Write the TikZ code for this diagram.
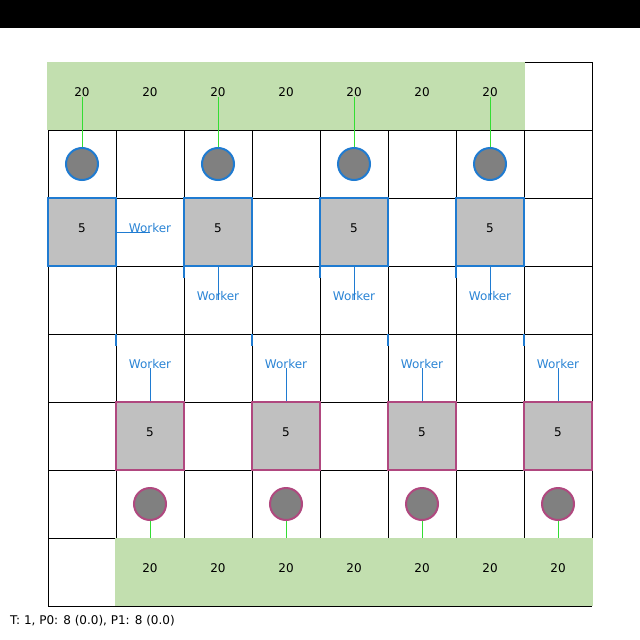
\documentclass[tikz,border=0pt]{standalone}
\usepackage{fontspec}
\setmainfont{DejaVu Sans}
\definecolor{bandgreen}{HTML}{C2DFAF}
\definecolor{sqblue}{HTML}{1F7BD1}
\definecolor{wblue}{HTML}{2A84D5}
\definecolor{sqmag}{HTML}{B0487F}
\definecolor{sqgray}{HTML}{C0C0C0}
\definecolor{circgray}{HTML}{808080}
\definecolor{lgreen}{HTML}{33DD33}
\pgfdeclarelayer{gridlayer}
\pgfdeclarelayer{connlayer}
\pgfdeclarelayer{bandlayer}
\pgfsetlayers{gridlayer,connlayer,bandlayer,main}
\begin{document}
\begin{tikzpicture}[x=1pt,y=-1pt,
  gridline/.style={draw=black,line width=1pt},
  bandfill/.style={fill=bandgreen,draw=none},
  txt/.style={font=\fontsize{12}{14}\selectfont,text=black,inner sep=1pt},
  num/.style={txt,anchor=base},
  bsq/.style={rectangle,draw=sqblue,line width=2pt,fill=sqgray,minimum size=68pt,inner sep=0pt},
  msq/.style={bsq,draw=sqmag},
  bcirc/.style={circle,draw=sqblue,line width=2pt,fill=circgray,minimum size=32pt,inner sep=0pt},
  mcirc/.style={bcirc,draw=sqmag},
  worker/.style={font=\fontsize{12}{14}\selectfont,text=wblue,anchor=base,inner sep=0pt},
  wline/.style={draw=sqblue,line width=1pt},
  gline/.style={draw=lgreen,line width=1pt},
  tickmark/.style={draw=sqblue,line width=1.5pt}]
\useasboundingbox (0,0) rectangle (640,640);
% background and grid
\begin{pgfonlayer}{gridlayer}
\fill[white] (0,0) rectangle (640,640);
\fill[black] (0,0) rectangle (640,28);
\foreach \i in {0,...,8} {
  \draw[gridline] (48+68*\i,62) -- (48+68*\i,606);
  \draw[gridline] (48,62+68*\i) -- (592,62+68*\i);
}
\end{pgfonlayer}
% bands
\begin{pgfonlayer}{bandlayer}
\fill[bandfill] (47,62) rectangle (525,130);
\fill[bandfill] (115,538) rectangle (593,606);
\end{pgfonlayer}
% top labels
\foreach \c [count=\k] in {82,150,218,286,354,422,490} {
  \node[num] (t\k) at (\c,96) {20};
}
% bottom labels
\foreach \c [count=\k] in {150,218,286,354,422,490,558} {
  \node[num] (b\k) at (\c,572) {20};
}
% top circles
\node[bcirc] (c1) at (82,164) {};
\node[bcirc] (c2) at (218,164) {};
\node[bcirc] (c3) at (354,164) {};
\node[bcirc] (c4) at (490,164) {};
\draw[gline] (t1.south) -- (c1.north);
\draw[gline] (t3.south) -- (c2.north);
\draw[gline] (t5.south) -- (c3.north);
\draw[gline] (t7.south) -- (c4.north);
% blue squares
\node[bsq] (s1) at (82,232) {};
\node[bsq] (s2) at (218,232) {};
\node[bsq] (s3) at (354,232) {};
\node[bsq] (s4) at (490,232) {};
\node[num] (s1t) at (s1.center) {5};
\node[num] (s2t) at (s2.center) {5};
\node[num] (s3t) at (s3.center) {5};
\node[num] (s4t) at (s4.center) {5};
% top workers
\node[worker] (w1) at (150,232) {Worker};
\node[worker] (w2) at (218,300) {Worker};
\node[worker] (w3) at (354,300) {Worker};
\node[worker] (w4) at (490,300) {Worker};
\draw[wline] (s1.east) -- (w1.base);
\draw[wline] (s2.south) -- (w2.base);
\draw[wline] (s3.south) -- (w3.base);
\draw[wline] (s4.south) -- (w4.base);
% magenta squares
\node[msq] (m1) at (150,436) {};
\node[msq] (m2) at (286,436) {};
\node[msq] (m3) at (422,436) {};
\node[msq] (m4) at (558,436) {};
\node[num] (m1t) at (m1.center) {5};
\node[num] (m2t) at (m2.center) {5};
\node[num] (m3t) at (m3.center) {5};
\node[num] (m4t) at (m4.center) {5};
% bottom workers
\node[worker] (v1) at (150,368) {Worker};
\node[worker] (v2) at (286,368) {Worker};
\node[worker] (v3) at (422,368) {Worker};
\node[worker] (v4) at (558,368) {Worker};
\draw[wline] (v1.base) -- (m1.north);
\draw[wline] (v2.base) -- (m2.north);
\draw[wline] (v3.base) -- (m3.north);
\draw[wline] (v4.base) -- (m4.north);
% bottom circles
\node[mcirc] (d1) at (150,504) {};
\node[mcirc] (d2) at (286,504) {};
\node[mcirc] (d3) at (422,504) {};
\node[mcirc] (d4) at (558,504) {};
\begin{pgfonlayer}{connlayer}
\draw[gline] (d1.south) -- (b1.north);
\draw[gline] (d2.south) -- (b3.north);
\draw[gline] (d3.south) -- (b5.north);
\draw[gline] (d4.south) -- (b7.north);
\end{pgfonlayer}
% small ticks
\draw[tickmark] (116,198) -- (116,210);
\foreach \x in {184,320,456} { \draw[tickmark] (\x,266) -- (\x,278); }
\foreach \x in {116,252,388,524} { \draw[tickmark] (\x,334) -- (\x,346); }
% status
\node[txt,anchor=base west,inner sep=0pt] (status) at (10,624) {T: 1, P0: 8 (0.0), P1: 8 (0.0)};
\end{tikzpicture}
\end{document}
